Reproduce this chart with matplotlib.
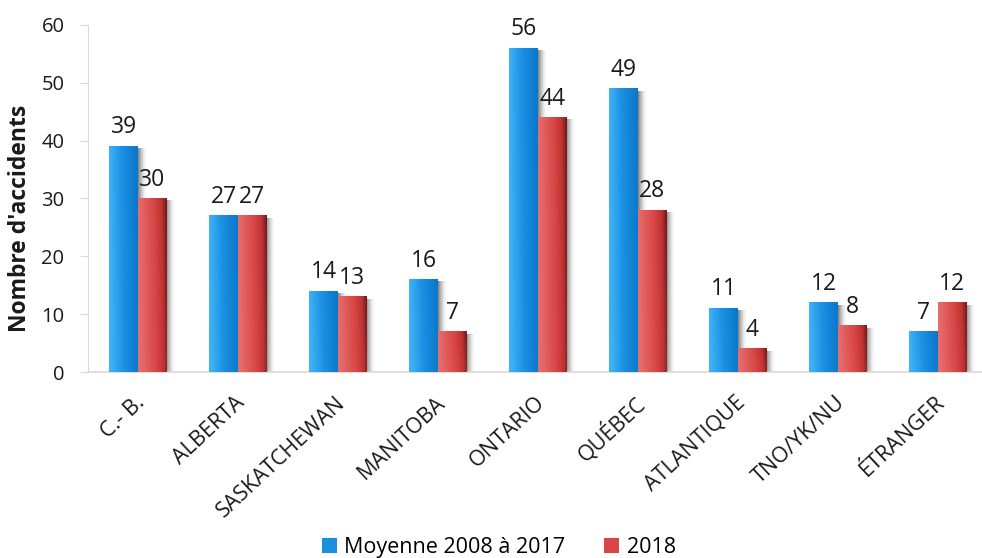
import numpy as np
import matplotlib
matplotlib.use("Agg")
import matplotlib.pyplot as plt
import matplotlib.transforms as mtransforms
from matplotlib.colors import LinearSegmentedColormap
from matplotlib.patches import Rectangle

plt.rcParams['font.family'] = ['Open Sans', 'DejaVu Sans']

categories = ["C.- B.", "ALBERTA", "SASKATCHEWAN", "MANITOBA", "ONTARIO",
              "QUÉBEC", "ATLANTIQUE", "TNO/YK/NU", "ÉTRANGER"]
avg_2008_2017 = [39, 27, 14, 16, 56, 49, 11, 12, 7]
year_2018 = [30, 27, 13, 7, 44, 28, 4, 8, 12]
series_names = ["Moyenne 2008 à 2017", "2018"]
y_ticks = [0, 10, 20, 30, 40, 50, 60]

blue_cmap = LinearSegmentedColormap.from_list(
    "blue_bar", [(0.0, "#3db2f6"), (0.45, "#1b90e2"), (1.0, "#0a76c9")])
red_cmap = LinearSegmentedColormap.from_list(
    "red_bar", [(0.0, "#e56d6d"), (0.55, "#d94646"), (0.82, "#bf3333"), (1.0, "#6e1a1a")])

fig = plt.figure(figsize=(9.82, 5.58), dpi=100)
ax = fig.add_axes([0.0896, 0.3333, 0.9104, 0.622])

bar_w = 0.285
x = np.arange(len(categories))

px_x = 9.0 / 900.0
px_y = 60.0 / 347.0

grad = np.tile(np.linspace(0, 1, 64), (32, 1))
vshade = np.linspace(0.0, 0.08, 32)[:, None]


def draw_bar(x0, h, cmap, zorder):
    # soft drop shadow to the right of the bar
    for k, a in zip(range(1, 10), [0.13, 0.11, 0.09, 0.075, 0.06, 0.045, 0.03, 0.02, 0.01]):
        ax.add_patch(Rectangle((x0 + k * px_x, 0), bar_w, max(h - 2 * px_y, 0),
                               facecolor="#000000", alpha=a, linewidth=0,
                               zorder=zorder - 1))
    g = np.clip(grad - vshade, 0, 1)
    ax.imshow(g, cmap=cmap, extent=(x0, x0 + bar_w, 0, h), origin="upper",
              aspect="auto", zorder=zorder, interpolation="bilinear")


for i in range(len(categories)):
    draw_bar(x[i] - bar_w, avg_2008_2017[i], blue_cmap, 3)
    draw_bar(x[i], year_2018[i], red_cmap, 3)

ax.set_xlim(-0.5, 8.44)
ax.set_ylim(0, 60)

for i in range(len(categories)):
    ax.annotate(str(avg_2008_2017[i]), (x[i] - bar_w / 2, avg_2008_2017[i]),
                xytext=(0, 5), textcoords="offset points", ha="center", va="bottom",
                fontsize=16.5, color="#1a1a1a", zorder=6)
    ax.annotate(str(year_2018[i]), (x[i] + bar_w / 2, year_2018[i]),
                xytext=(0, 5), textcoords="offset points", ha="center", va="bottom",
                fontsize=16.5, color="#1a1a1a", zorder=6)

for s in ["top", "right"]:
    ax.spines[s].set_visible(False)
ax.spines["left"].set_color("#d9d9d9")
ax.spines["bottom"].set_color("#d9d9d9")
ax.spines["bottom"].set_linewidth(1.2)

ax.set_yticks(y_ticks)
ax.tick_params(axis="y", length=6, color="#d9d9d9", pad=11, labelsize=14.5, labelcolor="#1a1a1a")
ax.set_xticks(x)
ax.set_xticklabels(categories, rotation=43, ha="right", va="center", rotation_mode="anchor",
                   fontsize=15.5, color="#1a1a1a")
ax.tick_params(axis="x", length=0, pad=20)
shift = mtransforms.ScaledTranslation(4 / 100, 0, fig.dpi_scale_trans)
for lbl in ax.get_xticklabels():
    lbl.set_transform(lbl.get_transform() + shift)

ax.set_ylabel("Nombre d'accidents", fontsize=16.5, fontweight="bold", color="#1a1a1a")
ax.yaxis.set_label_coords(-0.063, 0.444)

handles = [Rectangle((0, 0), 1, 1, facecolor="#1a8fe0"),
           Rectangle((0, 0), 1, 1, facecolor="#d94646")]
fig.legend(handles, series_names, loc="center", bbox_to_anchor=(0.508, 0.018),
           ncol=2, frameon=False, fontsize=15.5, handlelength=0.7, handleheight=0.7,
           handletextpad=0.35, columnspacing=1.8)

fig.savefig("out.png", dpi=100, facecolor="white")
